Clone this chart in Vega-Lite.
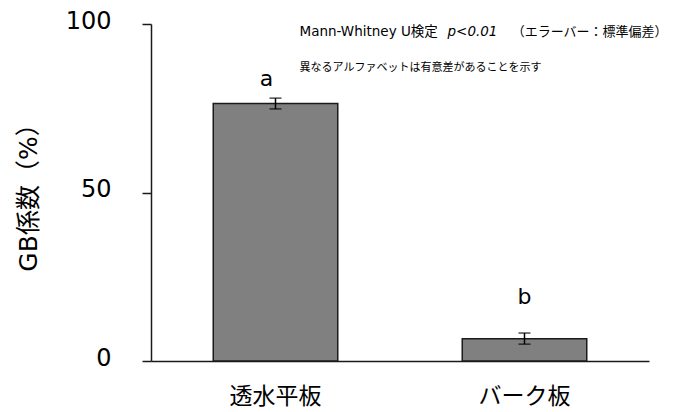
{
  "$schema": "https://vega.github.io/schema/vega-lite/v6.json",
  "width": 498,
  "height": 337,
  "autosize": "none",
  "padding": {"left": 151, "top": 24, "right": 26, "bottom": 51},
  "background": "white",
  "config": {
    "view": {"stroke": null},
    "font": "DejaVu Sans, Noto Sans CJK JP",
    "text": {"color": "black"}
  },
  "datasets": {
    "bars": [
      {"group": "透水平板", "gb": 76.4, "lo": 74.8, "hi": 78.0, "letter": "a", "letterY": 83.6},
      {"group": "バーク板", "gb": 6.6, "lo": 5.0, "hi": 8.3, "letter": "b", "letterY": 19.0}
    ]
  },
  "data": {"name": "bars"},
  "layer": [
    {
      "mark": {"type": "bar", "fill": "#808080", "stroke": "#1a1a1a", "strokeWidth": 1.5},
      "encoding": {
        "x": {
          "field": "group", "type": "nominal", "sort": ["透水平板", "バーク板"],
          "scale": {"paddingInner": 0.5, "paddingOuter": 0.25},
          "axis": {
            "title": null, "labelAngle": 0, "ticks": false, "domainColor": "#1a1a1a", "domainWidth": 1.5,
            "labelFontSize": 23, "labelPadding": 24, "labelColor": "black", "labelFont": "Noto Sans CJK JP"
          }
        },
        "y": {
          "field": "gb", "type": "quantitative", "scale": {"domain": [0, 100]},
          "axis": {
            "values": [0, 50, 100], "grid": false, "tickSize": 9, "tickColor": "#1a1a1a", "tickWidth": 1.5,
            "domainColor": "#1a1a1a", "domainWidth": 1.5, "labelFontSize": 24, "labelPadding": 31,
            "labelColor": "black", "labelFont": "DejaVu Sans", "labelOffset": -3,
            "title": "GB係数（%）", "titleFontSize": 25, "titleFontWeight": "normal", "titleColor": "black",
            "titleFont": "DejaVu Sans, Noto Sans CJK JP",
            "titleX": -123, "titleY": 167, "titleAngle": -90, "titleAlign": "center", "titleBaseline": "middle"
          }
        }
      }
    },
    {
      "mark": {"type": "rule", "color": "black", "strokeWidth": 1.5},
      "encoding": {
        "x": {"field": "group", "type": "nominal", "sort": ["透水平板", "バーク板"]},
        "y": {"field": "lo", "type": "quantitative"},
        "y2": {"field": "hi"}
      }
    },
    {
      "mark": {"type": "tick", "color": "black", "size": 12, "thickness": 1.5},
      "encoding": {
        "x": {"field": "group", "type": "nominal", "sort": ["透水平板", "バーク板"]},
        "y": {"field": "lo", "type": "quantitative"}
      }
    },
    {
      "mark": {"type": "tick", "color": "black", "size": 12, "thickness": 1.5},
      "encoding": {
        "x": {"field": "group", "type": "nominal", "sort": ["透水平板", "バーク板"]},
        "y": {"field": "hi", "type": "quantitative"}
      }
    },
    {
      "transform": [{"filter": "datum.letter == 'a'"}],
      "mark": {"type": "text", "fontSize": 22, "baseline": "middle", "dx": -9, "font": "DejaVu Sans"},
      "encoding": {
        "x": {"field": "group", "type": "nominal", "sort": ["透水平板", "バーク板"]},
        "y": {"field": "letterY", "type": "quantitative"},
        "text": {"field": "letter"}
      }
    },
    {
      "transform": [{"filter": "datum.letter == 'b'"}],
      "mark": {"type": "text", "fontSize": 22, "baseline": "middle", "font": "DejaVu Sans"},
      "encoding": {
        "x": {"field": "group", "type": "nominal", "sort": ["透水平板", "バーク板"]},
        "y": {"field": "letterY", "type": "quantitative"},
        "text": {"field": "letter"}
      }
    },
    {
      "data": {"values": [{"group": "透水平板", "y": 97.6, "t": "Mann-Whitney U検定"}]},
      "mark": {"type": "text", "fontSize": 13.5, "align": "left", "baseline": "middle", "dx": 24},
      "encoding": {
        "x": {"field": "group", "type": "nominal", "sort": ["透水平板", "バーク板"]},
        "y": {"field": "y", "type": "quantitative"},
        "text": {"field": "t"}
      }
    },
    {
      "data": {"values": [{"group": "透水平板", "y": 97.6, "t": "p<0.01"}]},
      "mark": {"type": "text", "fontSize": 13.5, "fontStyle": "italic", "align": "left", "baseline": "middle", "dx": 172},
      "encoding": {
        "x": {"field": "group", "type": "nominal", "sort": ["透水平板", "バーク板"]},
        "y": {"field": "y", "type": "quantitative"},
        "text": {"field": "t"}
      }
    },
    {
      "data": {"values": [{"group": "バーク板", "y": 97.6, "t": "（エラーバー：標準偏差）"}]},
      "mark": {"type": "text", "fontSize": 13, "align": "right", "baseline": "middle", "dx": 143, "font": "Noto Sans CJK JP"},
      "encoding": {
        "x": {"field": "group", "type": "nominal", "sort": ["透水平板", "バーク板"]},
        "y": {"field": "y", "type": "quantitative"},
        "text": {"field": "t"}
      }
    },
    {
      "data": {"values": [{"group": "透水平板", "y": 86.8, "t": "異なるアルファベットは有意差があることを示す"}]},
      "mark": {"type": "text", "fontSize": 11, "align": "left", "baseline": "middle", "dx": 24, "font": "Noto Sans CJK JP"},
      "encoding": {
        "x": {"field": "group", "type": "nominal", "sort": ["透水平板", "バーク板"]},
        "y": {"field": "y", "type": "quantitative"},
        "text": {"field": "t"}
      }
    }
  ]
}
